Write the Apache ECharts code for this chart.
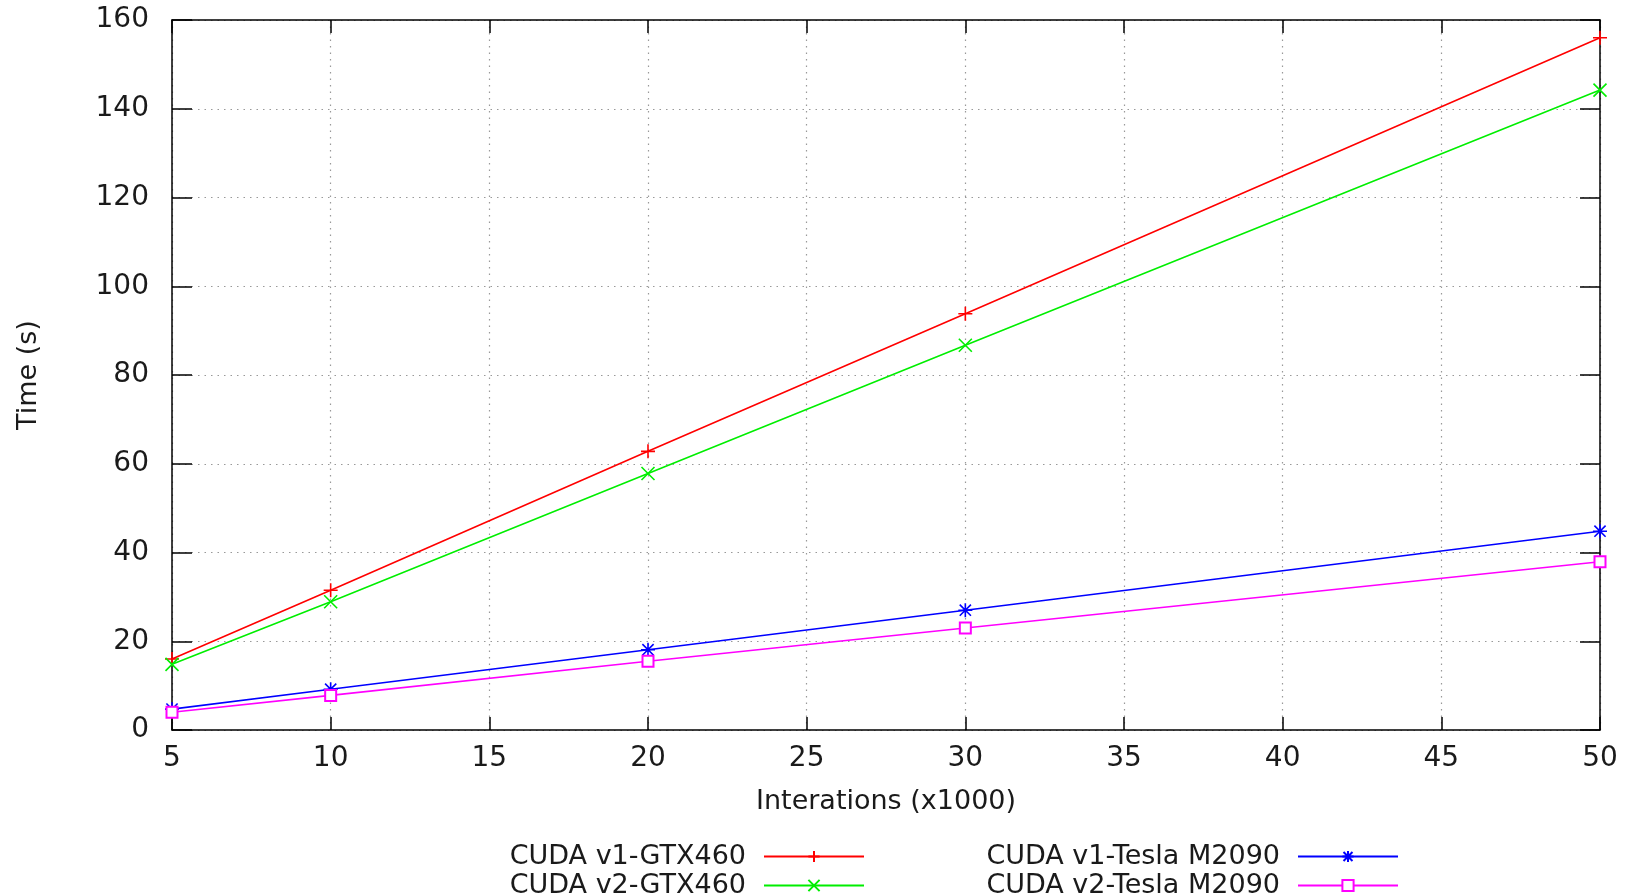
<!DOCTYPE html>
<html>
<head>
<meta charset="utf-8">
<script src="https://cdn.jsdelivr.net/npm/echarts@6/dist/echarts.min.js"></script>
<style>
  html, body { margin: 0; padding: 0; background: #fff; }
  #chart { width: 1635px; height: 895px; }
</style>
</head>
<body>
<div id="chart"></div>
<script>
// iterations (x1000)
var iteracoes = [5, 10, 20, 30, 50];

var v1GTX = [16, 31.5, 62.8, 93.8, 156];
var v2GTX = [14.8, 28.9, 57.8, 86.7, 144.2];
var v1Tesla = [4.7, 9.2, 18.1, 27, 44.8];
var v2Tesla = [4, 7.8, 15.5, 23, 37.9];

var nomes = ['CUDA v1-GTX460', 'CUDA v2-GTX460', 'CUDA v1-Tesla M2090', 'CUDA v2-Tesla M2090'];

var fonte = 'DejaVu Sans';
var corTexto = '#1a1a1a';

var simbolos = {
  mais: 'path://M0,-1L0,1M-1,0L1,0',
  xis: 'path://M-1,-1L1,1M-1,1L1,-1',
  estrela: 'path://M0,-1L0,1M-1,0L1,0M-0.8,-0.8L0.8,0.8M-0.8,0.8L0.8,-0.8'
};

function pares(vals) {
  return iteracoes.map(function (x, i) { return [x, vals[i]]; });
}

function serie(nome, vals, cor, simbolo, tam) {
  return {
    name: nome,
    type: 'line',
    data: pares(vals),
    symbol: simbolo,
    symbolSize: tam,
    showAllSymbol: true,
    lineStyle: { color: cor, width: 1.6 },
    itemStyle: { color: cor, borderColor: cor, borderWidth: 1.6 },
    emphasis: { disabled: true },
    z: 3
  };
}

var grafico = echarts.init(document.getElementById('chart'));

var eixoX = {
  type: 'value',
  min: 5,
  max: 50,
  interval: 5,
  axisLine: { onZero: false, lineStyle: { color: '#000', width: 1.5 } },
  axisTick: { inside: true, length: 13, lineStyle: { color: '#000', width: 1.5 } }
};
var eixoY = {
  type: 'value',
  min: 0,
  max: 160,
  interval: 20,
  axisLine: { show: true, onZero: false, lineStyle: { color: '#000', width: 1.5 } },
  axisTick: { show: true, inside: true, length: 20, lineStyle: { color: '#000', width: 1.5 } }
};

var legendaBase = {
  orient: 'vertical',
  top: 842,
  height: 80,
  padding: 0,
  itemGap: 0,
  itemWidth: 100,
  itemHeight: 14,
  align: 'right',
  selectedMode: false,
  textStyle: { fontFamily: fonte, fontSize: 27, color: corTexto, lineHeight: 29, padding: [0, 13, 0, 0] }
};

var option = {
  backgroundColor: '#fff',
  animation: false,
  grid: { left: 172, right: 35, top: 20, bottom: 165 },
  legend: [
    Object.assign({}, legendaBase, { right: 770, data: [nomes[0], nomes[1]] }),
    Object.assign({}, legendaBase, { right: 236, data: [nomes[2], nomes[3]] })
  ],
  xAxis: [
    Object.assign({}, eixoX, {
      position: 'bottom',
      name: 'Interations (x1000)',
      nameLocation: 'middle',
      nameGap: 58,
      nameTextStyle: { fontFamily: fonte, fontSize: 27, color: corTexto },
      axisLabel: { fontFamily: fonte, fontSize: 28, color: corTexto, margin: 15 },
      splitLine: { show: true, lineStyle: { color: '#999', width: 1.2, type: [1.5, 5] } }
    }),
    Object.assign({}, eixoX, {
      position: 'top',
      axisLabel: { show: false },
      splitLine: { show: false }
    })
  ],
  yAxis: [
    Object.assign({}, eixoY, {
      position: 'left',
      name: 'Time (s)',
      nameLocation: 'middle',
      nameGap: 130,
      nameTextStyle: { fontFamily: fonte, fontSize: 27, color: corTexto },
      axisLabel: { fontFamily: fonte, fontSize: 28, color: corTexto, margin: 23 },
      splitLine: { show: true, lineStyle: { color: '#999', width: 1.2, type: [1.5, 5] } }
    }),
    Object.assign({}, eixoY, {
      position: 'right',
      axisLabel: { show: false },
      splitLine: { show: false }
    })
  ],
  series: [
    serie(nomes[0], v1GTX, '#ff0000', simbolos.mais, 14),
    serie(nomes[1], v2GTX, '#00ee00', simbolos.xis, 13),
    serie(nomes[2], v1Tesla, '#0000ff', simbolos.estrela, 14),
    serie(nomes[3], v2Tesla, '#ff00ff', 'emptyRect', 11)
  ]
};

grafico.setOption(option);
</script>
</body>
</html>
